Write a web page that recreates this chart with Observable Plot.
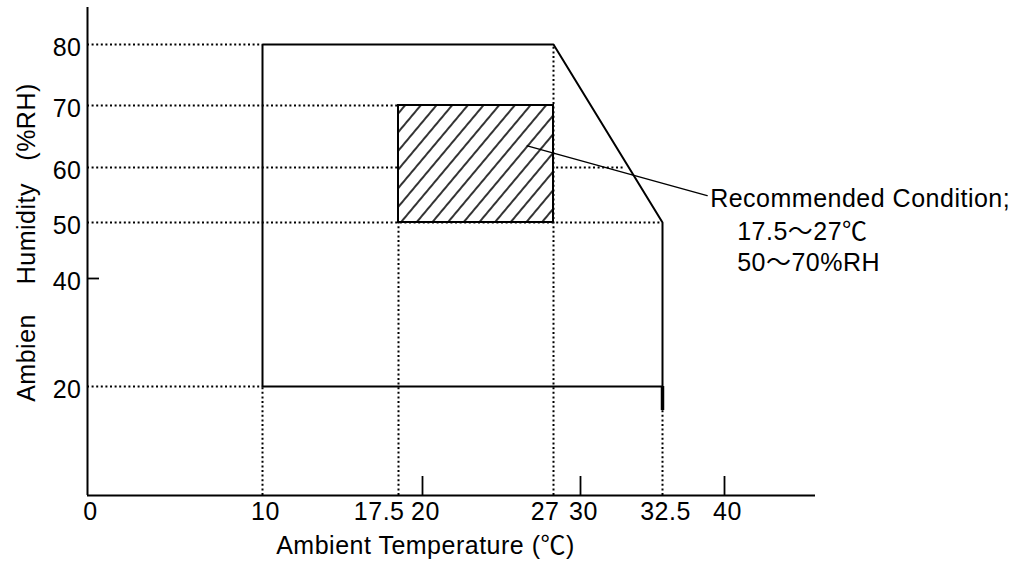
<!DOCTYPE html>
<html><head><meta charset="utf-8">
<script src="https://cdn.jsdelivr.net/npm/d3@7"></script>
<script src="https://cdn.jsdelivr.net/npm/@observablehq/plot@0.6"></script>
<style>
html,body{margin:0;padding:0;background:#fff;}
</style></head><body><div id="chart"></div>
<script>
// ---- data ----
const xTickValues = [0, 10, 17.5, 20, 27, 30, 32.5, 40];
const xEndLabels = [17.5, 27];
const xTickMarks = [20, 30, 40];
const yScaleValues = [0, 20, 40, 50, 60, 70, 80];
const yTickValues = [80, 70, 60, 50, 40, 20];
const yTickMarks = [40];
const operatingTemp = [10, 10, 27, 32.5, 32.5, 10];
const operatingHum = [20, 80, 80, 50, 20, 20];
const recTemp = [17.5, 27];
const recHum = [50, 70];
const guideHum = [80, 70, 60, 50, 20];
const guideHumEnd = [10, 17.5, 31.3, 32.5, 10];
const guideTemp = [10, 17.5, 27, 32.5];
const guideTempTop = [20, 50, 80, 15.6];
const tailTemp = 32.5;
const tailHum = [15.6, 20];
const leaderTemp = [25.6, 37.9];
const leaderHum = [63.5, 54.9];
const noteTitle = "Recommended Condition;";
const noteTemp = "17.5\uFF5E27\u2103";
const noteHum = "50\uFF5E70%RH";
const xTitle = "Ambient Temperature (\u2103)";
const yTitle = "Ambien\u00a0\u00a0\u00a0\u00a0Humidity\u00a0\u00a0\u00a0(%RH)";

// ---- derived tables ----
const operating = operatingTemp.map((t, i) => ({t, h: operatingHum[i]}));
const hGuides = guideHum.map((h, i) => ({h, t1: 0, t2: guideHumEnd[i]}));
const vGuides = guideTemp.map((t, i) => ({t, h1: 0, h2: guideTempTop[i]}));
const leader = leaderTemp.map((t, i) => ({t, h: leaderHum[i]}));
const recBox = [{x1: recTemp[0], x2: recTemp[1], y1: recHum[0], y2: recHum[1]}];

const FS = 25;
const dots = {stroke: "black", strokeWidth: 2, strokeDasharray: "2,2.6", strokeLinecap: "butt"};

const chart = Plot.plot({
  width: 1027,
  height: 565,
  marginLeft: 87,
  marginRight: 212,
  marginTop: 7,
  marginBottom: 70,
  style: "font-family: 'Liberation Sans', Arial, 'Noto Sans CJK JP', sans-serif; letter-spacing: 0.5px; background: white; color: black;",
  x: {type: "linear", axis: null, domain: xTickValues, range: [87, 262, 398, 422, 553, 580, 662, 724]},
  y: {type: "linear", axis: null, domain: yScaleValues, range: [495, 386, 278, 222, 167, 105, 44]},
  marks: [
    // guides
    Plot.ruleY(hGuides, {y: "h", x1: "t1", x2: "t2", ...dots}),
    Plot.ruleX(vGuides, {x: "t", y1: "h1", y2: "h2", ...dots}),
    // recommended box
    Plot.rect(recBox, {x1: "x1", x2: "x2", y1: "y1", y2: "y2", fill: "url(#hatch)", stroke: "black", strokeWidth: 2}),
    // operating envelope
    Plot.line(operating, {x: "t", y: "h", stroke: "black", strokeWidth: 2, strokeLinejoin: "miter"}),
    Plot.ruleX([tailTemp], {y1: () => tailHum[0], y2: () => tailHum[1], stroke: "black", strokeWidth: 3.5}),
    // leader
    Plot.line(leader, {x: "t", y: "h", stroke: "black", strokeWidth: 1.4}),
    // axes
    Plot.ruleY([0], {stroke: "black", strokeWidth: 2}),
    Plot.ruleX([0], {stroke: "black", strokeWidth: 2}),
    Plot.ruleX(xTickMarks.map(t => ({t, h: 0})), {x: "t", y1: "h", y2: "h", insetTop: -19, stroke: "black", strokeWidth: 1.8}),
    Plot.ruleY(yTickMarks.map(h => ({h, t: 0})), {y: "h", x1: "t", x2: "t", insetRight: -12, stroke: "black", strokeWidth: 1.8}),
    // tick labels
    Plot.text(xTickValues.filter(v => !xEndLabels.includes(v)), {x: d => d, frameAnchor: "bottom", text: d => String(d), textAnchor: "middle", lineAnchor: "middle", dx: 3, dy: 16, fontSize: FS, fill: "black"}),
    Plot.text(xEndLabels, {x: d => d, frameAnchor: "bottom", text: d => String(d), textAnchor: "end", lineAnchor: "middle", dx: 6, dy: 16, fontSize: FS, fill: "black"}),
    Plot.text(yTickValues, {y: d => d, frameAnchor: "left", text: d => String(d), textAnchor: "end", lineAnchor: "middle", dx: -6, dy: 3, fontSize: FS, fill: "black"}),
    // titles
    Plot.text([xTitle], {frameAnchor: "bottom", text: d => d, textAnchor: "middle", lineAnchor: "middle", dx: -26, dy: 50, fontSize: FS, fill: "black"}),
    Plot.text([yTitle], {frameAnchor: "left", text: d => d, textAnchor: "middle", lineAnchor: "middle", rotate: -90, dx: -61, dy: -9, fontSize: FS, fill: "black"}),
    // annotation
    Plot.text([noteTitle], {x: () => leaderTemp[1], y: () => leaderHum[1], text: d => d, textAnchor: "start", lineAnchor: "middle", dx: 3, dy: 3, fontSize: FS, fill: "black"}),
    Plot.text([noteTemp], {x: () => leaderTemp[1], y: () => leaderHum[1], text: d => d, textAnchor: "start", lineAnchor: "middle", dx: 30, dy: 36, fontSize: FS, fill: "black"}),
    Plot.text([noteHum], {x: () => leaderTemp[1], y: () => leaderHum[1], text: d => d, textAnchor: "start", lineAnchor: "middle", dx: 30, dy: 67, fontSize: FS, fill: "black"})
  ]
});

// hatch pattern definition
const svgSel = d3.select(chart);
const defs = svgSel.insert("defs", ":first-child");
const pat = defs.append("pattern")
  .attr("id", "hatch")
  .attr("patternUnits", "userSpaceOnUse")
  .attr("width", 12).attr("height", 12)
  .attr("patternTransform", "rotate(40)");
pat.append("rect").attr("width", 12).attr("height", 12).attr("fill", "white");
pat.append("line").attr("x1", 6).attr("y1", -1).attr("x2", 6).attr("y2", 13)
  .attr("stroke", "black").attr("stroke-width", 1.6);

document.getElementById("chart").appendChild(chart);
</script></body></html>
